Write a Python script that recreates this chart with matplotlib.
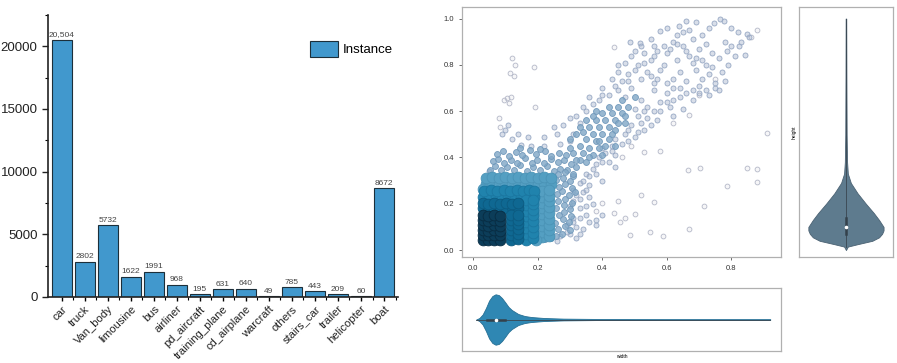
import matplotlib
matplotlib.use("Agg")
import matplotlib.pyplot as plt
import matplotlib.ticker as ticker
from matplotlib.colors import to_rgba

plt.rcParams['font.family'] = ['Liberation Sans', 'DejaVu Sans']

# ---- bar chart data ----
categories = ["car", "truck", "Van_body", "limousine", "bus", "airliner", "pd_aircraft",
              "training_plane", "cd_airplane", "warcraft", "others", "stairs_car",
              "trailer", "helicopter", "boat"]
instances = [20504, 2802, 5732, 1622, 1991, 968, 195, 631, 640, 49, 785, 443, 209, 60, 8672]

# ---- scatter data (width, height) grouped by density level, sparse -> dense ----
lvl6_pts = [(0.12, 0.83), (0.131, 0.80), (0.114, 0.767), (0.128, 0.75), (0.19, 0.79),
            (0.193, 0.62), (0.435, 0.876), (0.91, 0.507), (0.848, 0.353), (0.879, 0.35),
            (0.879, 0.295), (0.786, 0.276), (0.704, 0.353), (0.665, 0.345), (0.714, 0.19),
            (0.56, 0.208), (0.668, 0.09), (0.547, 0.078), (0.588, 0.062), (0.485, 0.066),
            (0.456, 0.12), (0.435, 0.158), (0.50, 0.155), (0.47, 0.14), (0.62, 0.55),
            (0.58, 0.43), (0.53, 0.425), (0.70, 0.67), (0.75, 0.74), (0.86, 0.92),
            (0.88, 0.95), (0.52, 0.24), (0.40, 0.205), (0.38, 0.17), (0.45, 0.21),
            (0.085, 0.533), (0.095, 0.65), (0.105, 0.656), (0.118, 0.663), (0.113, 0.634),
            (0.082, 0.57), (0.668, 0.584), (0.46, 0.40), (0.49, 0.45)]

lvl5_pts = [(0.66, 0.99), (0.69, 0.985), (0.745, 0.98), (0.766, 1.0), (0.776, 0.99),
            (0.58, 0.945), (0.60, 0.96), (0.637, 0.967), (0.65, 0.94), (0.67, 0.95),
            (0.80, 0.96), (0.82, 0.94), (0.848, 0.935),
            (0.487, 0.90), (0.518, 0.894), (0.55, 0.91), (0.62, 0.90), (0.68, 0.91),
            (0.72, 0.89), (0.78, 0.90), (0.80, 0.88), (0.853, 0.92), (0.823, 0.88),
            (0.50, 0.86), (0.53, 0.85), (0.57, 0.86), (0.60, 0.85), (0.66, 0.86),
            (0.70, 0.87), (0.74, 0.85), (0.785, 0.86), (0.843, 0.844),
            (0.47, 0.81), (0.55, 0.82), (0.59, 0.80), (0.63, 0.82), (0.68, 0.81),
            (0.72, 0.80), (0.76, 0.83),
            (0.45, 0.77), (0.50, 0.78), (0.54, 0.77), (0.58, 0.78), (0.64, 0.77),
            (0.69, 0.78), (0.73, 0.76),
            (0.43, 0.74), (0.48, 0.73), (0.52, 0.74), (0.56, 0.72), (0.62, 0.74),
            (0.66, 0.73), (0.71, 0.74), (0.75, 0.72), (0.78, 0.73),
            (0.40, 0.70), (0.45, 0.69), (0.49, 0.70), (0.56, 0.69), (0.60, 0.68),
            (0.64, 0.70), (0.70, 0.71), (0.72, 0.69), (0.75, 0.70),
            (0.36, 0.66), (0.39, 0.65), (0.47, 0.66), (0.52, 0.65), (0.58, 0.64),
            (0.64, 0.66), (0.68, 0.65),
            (0.34, 0.62), (0.50, 0.61), (0.54, 0.62), (0.58, 0.60), (0.61, 0.62),
            (0.65, 0.61),
            (0.32, 0.58), (0.30, 0.57), (0.51, 0.58), (0.54, 0.57), (0.57, 0.56),
            (0.62, 0.58),
            (0.28, 0.54), (0.25, 0.53), (0.49, 0.54), (0.53, 0.52), (0.10, 0.52),
            (0.11, 0.54),
            (0.26, 0.50), (0.22, 0.49), (0.17, 0.49), (0.14, 0.50), (0.12, 0.48),
            (0.09, 0.50), (0.47, 0.50), (0.50, 0.49),
            (0.27, 0.46), (0.30, 0.47), (0.22, 0.45), (0.18, 0.45), (0.15, 0.455),
            (0.46, 0.46), (0.43, 0.45), (0.40, 0.44),
            (0.39, 0.40), (0.44, 0.41), (0.42, 0.38),
            (0.37, 0.35), (0.35, 0.33), (0.44, 0.36), (0.05, 0.34),
            (0.33, 0.29), (0.36, 0.28), (0.40, 0.30), (0.04, 0.31),
            (0.32, 0.24), (0.36, 0.23), (0.34, 0.25),
            (0.30, 0.19), (0.33, 0.18), (0.37, 0.20),
            (0.35, 0.15), (0.31, 0.14), (0.38, 0.13), (0.40, 0.15),
            (0.29, 0.11), (0.32, 0.10), (0.38, 0.11), (0.34, 0.09),
            (0.30, 0.07), (0.27, 0.06), (0.33, 0.07),
            (0.31, 0.50), (0.33, 0.55), (0.35, 0.60), (0.37, 0.63), (0.40, 0.67),
            (0.42, 0.67), (0.44, 0.71), (0.46, 0.73), (0.48, 0.76), (0.51, 0.80),
            (0.53, 0.81), (0.56, 0.84), (0.59, 0.88), (0.61, 0.87), (0.63, 0.89),
            (0.65, 0.88), (0.67, 0.84), (0.69, 0.83), (0.71, 0.82), (0.74, 0.79),
            (0.77, 0.77), (0.79, 0.80), (0.81, 0.84), (0.83, 0.90), (0.71, 0.93),
            (0.73, 0.96), (0.63, 0.93), (0.56, 0.88), (0.52, 0.88), (0.49, 0.84),
            (0.45, 0.80), (0.55, 0.75), (0.57, 0.74), (0.60, 0.72), (0.62, 0.70),
            (0.66, 0.68), (0.68, 0.69), (0.70, 0.68), (0.73, 0.67), (0.76, 0.69),
            (0.60, 0.64), (0.62, 0.65), (0.56, 0.60), (0.53, 0.60), (0.52, 0.55),
            (0.55, 0.54), (0.48, 0.52), (0.51, 0.51), (0.44, 0.48), (0.48, 0.47),
            (0.41, 0.42), (0.43, 0.43), (0.38, 0.37), (0.40, 0.38), (0.36, 0.32),
            (0.38, 0.33), (0.34, 0.30), (0.35, 0.26), (0.31, 0.26), (0.33, 0.22),
            (0.31, 0.21), (0.35, 0.19), (0.33, 0.14), (0.36, 0.12), (0.31, 0.12),
            (0.29, 0.08), (0.32, 0.05), (0.26, 0.04)]

lvl4_pts = [(0.052, 0.347), (0.068, 0.362), (0.087, 0.344), (0.104, 0.359), (0.126, 0.347),
            (0.147, 0.366), (0.168, 0.342), (0.186, 0.358), (0.207, 0.346), (0.228, 0.361),
            (0.251, 0.343), (0.268, 0.352), (0.291, 0.345),
            (0.061, 0.384), (0.079, 0.393), (0.097, 0.375), (0.118, 0.391), (0.137, 0.378),
            (0.161, 0.396), (0.183, 0.374), (0.198, 0.389), (0.219, 0.377), (0.243, 0.394),
            (0.262, 0.381), (0.283, 0.389), (0.302, 0.372),
            (0.074, 0.417), (0.093, 0.428), (0.112, 0.408), (0.134, 0.425), (0.152, 0.412),
            (0.177, 0.431), (0.196, 0.414), (0.224, 0.426), (0.241, 0.405), (0.265, 0.418),
            (0.288, 0.409), (0.145, 0.44), (0.209, 0.437),
            (0.258, 0.062), (0.276, 0.071), (0.262, 0.093), (0.284, 0.104), (0.301, 0.088),
            (0.255, 0.118), (0.279, 0.134), (0.297, 0.121), (0.266, 0.152), (0.283, 0.163),
            (0.304, 0.147), (0.257, 0.181), (0.281, 0.194), (0.299, 0.176), (0.264, 0.213),
            (0.286, 0.222), (0.306, 0.205), (0.259, 0.241), (0.275, 0.253), (0.297, 0.238),
            (0.267, 0.272), (0.285, 0.284), (0.308, 0.266), (0.256, 0.303), (0.279, 0.312),
            (0.299, 0.297), (0.262, 0.328), (0.284, 0.337), (0.243, 0.052), (0.224, 0.046),
            (0.311, 0.321), (0.315, 0.252),
            (0.31, 0.33), (0.32, 0.36), (0.33, 0.39), (0.31, 0.42), (0.34, 0.42),
            (0.33, 0.45), (0.36, 0.44), (0.35, 0.48), (0.38, 0.47), (0.37, 0.50),
            (0.40, 0.50), (0.39, 0.53), (0.42, 0.53), (0.41, 0.56), (0.44, 0.56),
            (0.43, 0.59), (0.46, 0.59), (0.45, 0.62), (0.38, 0.56), (0.40, 0.59),
            (0.36, 0.53), (0.34, 0.51), (0.42, 0.48), (0.44, 0.52), (0.47, 0.55),
            (0.48, 0.62), (0.50, 0.66), (0.46, 0.65), (0.42, 0.62), (0.38, 0.60),
            (0.35, 0.38), (0.37, 0.41), (0.39, 0.44), (0.30, 0.44),
            (0.30, 0.48), (0.32, 0.50), (0.33, 0.53), (0.35, 0.56), (0.37, 0.58),
            (0.39, 0.47), (0.41, 0.45), (0.43, 0.50), (0.45, 0.55), (0.47, 0.58),
            (0.44, 0.45), (0.40, 0.41), (0.36, 0.40), (0.32, 0.39)]

lvl3_pts = [(0.04, 0.285), (0.06, 0.29), (0.08, 0.285), (0.10, 0.29), (0.12, 0.285),
            (0.14, 0.29), (0.16, 0.285), (0.18, 0.29), (0.20, 0.285), (0.22, 0.29),
            (0.24, 0.285),
            (0.04, 0.31), (0.06, 0.315), (0.08, 0.31), (0.10, 0.315), (0.12, 0.31),
            (0.14, 0.315), (0.16, 0.31), (0.18, 0.315), (0.20, 0.31), (0.22, 0.315),
            (0.24, 0.31),
            (0.215, 0.055), (0.215, 0.08), (0.215, 0.105), (0.215, 0.13), (0.215, 0.155),
            (0.215, 0.18), (0.215, 0.205), (0.215, 0.23), (0.215, 0.255),
            (0.235, 0.06), (0.235, 0.085), (0.235, 0.11), (0.235, 0.135), (0.235, 0.16),
            (0.235, 0.185), (0.235, 0.21), (0.235, 0.235), (0.235, 0.26),
            (0.03, 0.265), (0.195, 0.045)]

lvl2_pts = [(0.03, 0.23), (0.05, 0.235), (0.07, 0.23), (0.09, 0.235), (0.11, 0.23),
            (0.13, 0.235), (0.15, 0.23), (0.17, 0.235), (0.19, 0.23),
            (0.035, 0.255), (0.055, 0.26), (0.075, 0.255), (0.095, 0.26), (0.115, 0.255),
            (0.135, 0.26), (0.155, 0.255), (0.175, 0.26), (0.19, 0.255),
            (0.165, 0.045), (0.165, 0.07), (0.165, 0.095), (0.165, 0.12), (0.165, 0.145),
            (0.165, 0.17), (0.165, 0.195), (0.165, 0.215),
            (0.185, 0.05), (0.185, 0.075), (0.185, 0.10), (0.185, 0.125), (0.185, 0.15),
            (0.185, 0.175), (0.185, 0.20), (0.185, 0.215)]

lvl1_pts = [(0.03, 0.18), (0.048, 0.185), (0.066, 0.18), (0.084, 0.185), (0.102, 0.18),
            (0.12, 0.185), (0.138, 0.18),
            (0.03, 0.205), (0.048, 0.2), (0.066, 0.205), (0.084, 0.2), (0.102, 0.205),
            (0.12, 0.2), (0.138, 0.205),
            (0.118, 0.045), (0.118, 0.066), (0.118, 0.087), (0.118, 0.108), (0.118, 0.129),
            (0.118, 0.15),
            (0.138, 0.048), (0.138, 0.069), (0.138, 0.09), (0.138, 0.111), (0.138, 0.132),
            (0.138, 0.153)]

lvl0_pts = [(0.03, 0.045), (0.048, 0.042), (0.066, 0.045), (0.085, 0.042),
            (0.03, 0.066), (0.048, 0.063), (0.066, 0.066), (0.085, 0.063),
            (0.03, 0.087), (0.048, 0.084), (0.066, 0.087), (0.085, 0.084),
            (0.03, 0.108), (0.048, 0.105), (0.066, 0.108), (0.085, 0.105),
            (0.03, 0.129), (0.048, 0.126), (0.066, 0.129), (0.085, 0.126),
            (0.03, 0.15), (0.048, 0.147), (0.066, 0.15), (0.085, 0.147)]

# ---- marginal violin outlines (position, relative half-width) ----
height_pos = [0.0, 0.015, 0.025, 0.04, 0.055, 0.07, 0.085, 0.10, 0.13, 0.16, 0.20, 0.245,
              0.29, 0.33, 0.38, 0.50, 0.75, 1.0]
height_dens = [0.0, 0.05, 0.3, 0.7, 0.88, 0.96, 1.0, 1.0, 0.88, 0.74, 0.53, 0.31, 0.13,
               0.05, 0.03, 0.018, 0.012, 0.008]
height_box = [0.07, 0.10, 0.14]   # q1, median, q3

width_pos = [0.01, 0.02, 0.03, 0.04, 0.05, 0.06, 0.07, 0.08, 0.09, 0.10, 0.11, 0.12, 0.14,
             0.16, 0.18, 0.22, 0.28, 0.40, 0.60, 0.92]
width_dens = [0.0, 0.06, 0.2, 0.45, 0.75, 0.93, 1.0, 0.97, 0.85, 0.68, 0.5, 0.38, 0.22, 0.14,
              0.1, 0.06, 0.035, 0.02, 0.012, 0.01]
width_box = [0.045, 0.07, 0.10]

fig = plt.figure(figsize=(8.97, 3.63), dpi=100, facecolor='white')

# ---------------- bar chart ----------------
ax = fig.add_axes([0.0535, 0.182, 0.390, 0.777])
xpos = list(range(len(categories)))
bars = ax.bar(xpos, instances, width=0.86, color='#4198cd', edgecolor='#1c2f3a',
              linewidth=0.8, label='Instance')
for b, v in zip(bars, instances):
    txt = f"{v:,}" if v >= 10000 else str(v)
    ax.text(b.get_x() + b.get_width() / 2, v + 120, txt, ha='center', va='bottom',
            fontsize=6, color='#444444')
ax.set_xlim(-0.6, len(categories) - 0.4)
ax.set_ylim(0, 22500)
ax.set_xticks(xpos)
ax.set_xticklabels(categories, rotation=45, ha='right', rotation_mode='anchor',
                   fontsize=8, color='#222222')
ax.xaxis.set_minor_locator(ticker.FixedLocator([i + 0.5 for i in xpos]))
ax.yaxis.set_major_locator(ticker.MultipleLocator(5000))
ax.yaxis.set_minor_locator(ticker.MultipleLocator(2500))
ax.tick_params(axis='y', labelsize=9.5, length=4, width=1, colors='#222222')
ax.tick_params(axis='x', length=3, width=1, pad=2)
ax.tick_params(which='minor', length=2.5, width=0.8)
for s in ['top', 'right']:
    ax.spines[s].set_visible(False)
for s in ['left', 'bottom']:
    ax.spines[s].set_linewidth(1.2)
    ax.spines[s].set_color('#222222')
ax.legend(loc='upper right', bbox_to_anchor=(1.02, 0.95), frameon=False, fontsize=9.5,
          handlelength=2.1, handleheight=1.45, handletextpad=0.4)

# ---------------- scatter ----------------
axs = fig.add_axes([0.515, 0.292, 0.3556, 0.6887])
levels = [
    (lvl6_pts, '#c3c6d4', '#b4b8c8', 12, 0.15),
    (lvl5_pts, '#a9b7cf', '#97a8c4', 13, 0.45),
    (lvl4_pts, '#80a7c6', '#7199bb', 18, 0.8),
    (lvl3_pts, '#549fc2', '#4a93b6', 60, 1.0),
    (lvl2_pts, '#2083ad', '#1b76a0', 60, 1.0),
    (lvl1_pts, '#0f6892', '#0c5a80', 60, 1.0),
    (lvl0_pts, '#0c3d59', '#082c42', 60, 1.0),
]
for pts, face, edge, size, fa in levels:
    px, py = zip(*pts)
    axs.scatter(px, py, s=size, facecolors=[to_rgba(face, fa)], edgecolors=edge,
                linewidths=0.6)
axs.set_xlim(-0.034, 0.953)
axs.set_ylim(-0.03, 1.05)
axs.xaxis.set_major_locator(ticker.MultipleLocator(0.2))
axs.yaxis.set_major_locator(ticker.MultipleLocator(0.2))
axs.xaxis.set_major_formatter(ticker.FormatStrFormatter('%.1f'))
axs.yaxis.set_major_formatter(ticker.FormatStrFormatter('%.1f'))
axs.tick_params(labelsize=5.5, length=2, width=0.6, colors='#555555', labelcolor='#333333')
for s in axs.spines.values():
    s.set_color('#b0b0b0')
    s.set_linewidth(0.9)

# ---------------- right violin (height) ----------------
axh = fig.add_axes([0.8907, 0.292, 0.1048, 0.6887])
hw = [d * 0.4 for d in height_dens]
axh.fill_betweenx(height_pos, [-w for w in hw], hw, color='#5e7b8e', edgecolor='#4b6273',
                  linewidth=0.6)
axh.plot([0, 0], [height_pos[1], height_pos[-1]], color='#3a4650', linewidth=0.6)
axh.plot([0, 0], [height_box[0], height_box[2]], color='#34414b', linewidth=1.8)
axh.scatter([0], [height_box[1]], s=2.5, color='white', zorder=5)
axh.set_xlim(-0.5, 0.5)
axh.set_ylim(-0.03, 1.05)
axh.set_xticks([])
axh.set_yticks([])
axh.set_ylabel('height', fontsize=3.5, labelpad=2)
for s in axh.spines.values():
    s.set_color('#b0b0b0')
    s.set_linewidth(0.9)

# ---------------- bottom violin (width) ----------------
axw = fig.add_axes([0.515, 0.033, 0.3556, 0.1736])
ww = [d * 0.4 for d in width_dens]
axw.fill_between(width_pos, [-w for w in ww], ww, color='#2f87b3', edgecolor='#256f94',
                 linewidth=0.6)
axw.plot([width_pos[0], width_pos[-1]], [0, 0], color='#3a4650', linewidth=0.6)
axw.plot([width_box[0], width_box[2]], [0, 0], color='#34414b', linewidth=1.8)
axw.scatter([width_box[1]], [0], s=2.5, color='white', zorder=5)
axw.set_xlim(-0.034, 0.953)
axw.set_ylim(-0.5, 0.5)
axw.set_xticks([])
axw.set_yticks([])
axw.set_xlabel('width', fontsize=3.5, labelpad=2)
for s in axw.spines.values():
    s.set_color('#b0b0b0')
    s.set_linewidth(0.9)

fig.savefig('out.png', dpi=100, facecolor='white')
